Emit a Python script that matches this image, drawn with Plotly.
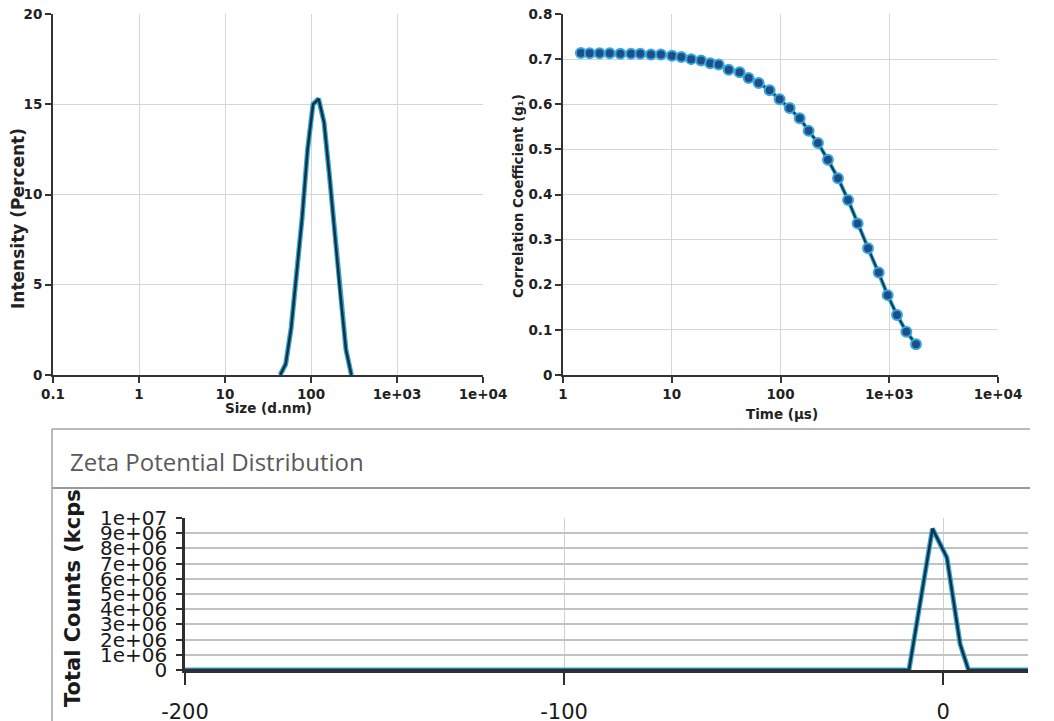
import plotly.graph_objects as go

# The page body has an 8 px default margin, so the figure is placed at (8, 8).
OFF = 8
W, H = 1054 - OFF, 721 - OFF

# ---- Size distribution (intensity) ----
size_nm = [43.82, 50.75, 58.77, 68.06, 78.82, 91.28, 105.7, 122.4, 141.8, 164.2, 190.1, 220.2, 255.0, 295.3]
intensity_pct = [0, 0.6, 2.6, 5.5, 8.7, 12.5, 15.0, 15.3, 14.0, 11.0, 7.6, 4.4, 1.4, 0]
size_ticks = [0.1, 1, 10, 100, 1000, 10000]
size_ticktext = ["0.1", "1", "10", "100", "1e+03", "1e+04"]
int_ticks = [0, 5, 10, 15, 20]

# ---- Correlation function ----
time_us = [1.46, 1.76, 2.17, 2.69, 3.37, 4.22, 5.14, 6.44, 7.96, 10.05,
           12.25, 15.1, 18.6, 22.6, 27.0, 33.4, 42.1, 50.9, 63.0, 79.5,
           98.2, 121.4, 150.0, 181.5, 221, 273, 338, 418, 512, 638,
           800, 967, 1178, 1436, 1762]
g1 = [0.7135, 0.713, 0.713, 0.713, 0.712, 0.712, 0.712, 0.710, 0.710, 0.7076,
      0.7046, 0.700, 0.697, 0.691, 0.688, 0.6765, 0.671, 0.658, 0.647, 0.631,
      0.611, 0.5915, 0.569, 0.541, 0.514, 0.477, 0.436, 0.388, 0.336, 0.281,
      0.227, 0.177, 0.133, 0.096, 0.068]
time_ticks = [1, 10, 100, 1000, 10000]
time_ticktext = ["1", "10", "100", "1e+03", "1e+04"]

# ---- Zeta potential distribution ----
zeta_mV = [-200, -9.0, -6.0, -2.8, 1.0, 4.5, 6.7, 22.4]
counts = [0, 0, 4.5e6, 9.3e6, 7.4e6, 1.7e6, 0, 0]
zeta_ticks = [-200, -100, 0]
zeta_ticktext = ["-200", "-100", "0"]
count_ticks = [0, 1e6, 2e6, 3e6, 4e6, 5e6, 6e6, 7e6, 8e6, 9e6, 1e7]
count_ticktext = ["0", "1e+06", "2e+06", "3e+06", "4e+06", "5e+06",
                  "6e+06", "7e+06", "8e+06", "9e+06", "1e+07"]

GLOW = "#2aa9de"
CORE = "#1b2f3d"
AXC = "#333333"
GRID = "#d6d6d6"


def px(x):
    return (x - OFF) / W


def py(y):
    return 1 - (y - OFF) / H


fig = go.Figure()

# size distribution: glow + core
fig.add_trace(go.Scatter(x=size_nm, y=intensity_pct, mode="lines",
                         line=dict(color=GLOW, width=5), xaxis="x", yaxis="y",
                         hoverinfo="skip", showlegend=False))
fig.add_trace(go.Scatter(x=size_nm, y=intensity_pct, mode="lines",
                         line=dict(color=CORE, width=2.5), xaxis="x", yaxis="y",
                         showlegend=False))

# correlation
fig.add_trace(go.Scatter(x=time_us, y=g1, mode="lines",
                         line=dict(color=GLOW, width=4), xaxis="x2", yaxis="y2",
                         hoverinfo="skip", showlegend=False))
fig.add_trace(go.Scatter(x=time_us, y=g1, mode="lines+markers",
                         line=dict(color="#173a4c", width=2),
                         marker=dict(size=10, color="#1d4f86",
                                     line=dict(color="#3aa8e0", width=2)),
                         xaxis="x2", yaxis="y2", showlegend=False))

# zeta
fig.add_trace(go.Scatter(x=zeta_mV, y=counts, mode="lines",
                         line=dict(color=GLOW, width=5), xaxis="x3", yaxis="y3",
                         hoverinfo="skip", showlegend=False, cliponaxis=False))
fig.add_trace(go.Scatter(x=zeta_mV, y=counts, mode="lines",
                         line=dict(color=CORE, width=2.5), xaxis="x3", yaxis="y3",
                         showlegend=False, cliponaxis=False))

tick_font = dict(family="DejaVu Sans", size=13.5, color="#222222", weight="bold")

common_top = dict(showline=True, linecolor=AXC, linewidth=2, ticks="outside",
                  ticklen=6, tickwidth=1.5, tickcolor=AXC, showgrid=True,
                  gridcolor=GRID, gridwidth=1, zeroline=False,
                  tickfont=tick_font, mirror=False, automargin=False,
                  ticklabeloverflow="allow")

fig.update_layout(
    width=W, height=H, autosize=False,
    margin=dict(l=0, r=0, t=0, b=0, pad=0),
    paper_bgcolor="white", plot_bgcolor="white",
    showlegend=False,
    xaxis=dict(domain=[px(53), px(483)], type="log", range=[-1, 4],
               tickvals=size_ticks, ticktext=size_ticktext, anchor="y",
               **common_top),
    yaxis=dict(domain=[py(375), py(14)], range=[0, 20], tickvals=int_ticks,
               anchor="x", **common_top),
    xaxis2=dict(domain=[px(563), px(998)], type="log", range=[0, 4],
                tickvals=time_ticks, ticktext=time_ticktext, anchor="y2",
                **common_top),
    yaxis2=dict(domain=[py(375), py(14)], range=[0, 0.8], dtick=0.1,
                anchor="x2", **common_top),
    xaxis3=dict(domain=[px(185), px(1028)], range=[-200, 22.4],
                tickvals=zeta_ticks, ticktext=zeta_ticktext, anchor="y3",
                showline=True, linecolor="#332e2b", linewidth=3, ticks="outside",
                ticklen=12, tickwidth=2, tickcolor="#332e2b", showgrid=True,
                gridcolor="#d0d0d0", gridwidth=1, zeroline=False,
                ticklabelstandoff=9, automargin=False, ticklabeloverflow="allow",
                tickfont=dict(family="DejaVu Sans", size=21, color="#1a1a1a")),
    yaxis3=dict(domain=[py(670), py(518)], range=[0, 1e7],
                tickvals=count_ticks, ticktext=count_ticktext, anchor="x3",
                showline=True, linecolor="#332e2b", linewidth=2.5, ticks="outside",
                ticklen=6, tickwidth=2, tickcolor="#332e2b", showgrid=True,
                gridcolor="#c2c2c2", gridwidth=2, zeroline=False,
                ticklabelstandoff=5, automargin=False, ticklabeloverflow="allow",
                tickfont=dict(family="DejaVu Sans", size=20, color="#1a1a1a")),
)

ann = []
ann.append(dict(text="Intensity (Percent)", x=px(18), y=py(219), textangle=-90,
                font=dict(family="DejaVu Sans", size=17, color="#222222", weight="bold")))
ann.append(dict(text="Size (d.nm)", x=px(268), y=py(408),
                font=dict(family="DejaVu Sans", size=13.5, color="#222222", weight="bold")))
ann.append(dict(text="Correlation Coefficient (g₁)", x=px(518), y=py(196), textangle=-90,
                font=dict(family="DejaVu Sans", size=13.5, color="#222222", weight="bold")))
ann.append(dict(text="Time (µs)", x=px(782), y=py(414),
                font=dict(family="DejaVu Sans", size=13.5, color="#222222", weight="bold")))
ann.append(dict(text="Zeta Potential Distribution", x=px(68), y=py(461), xanchor="left",
                font=dict(family="Open Sans", size=24, color="#5a5a5a")))
ann.append(dict(text="Total Counts (kcps", x=px(73), y=py(598), textangle=-90,
                font=dict(family="DejaVu Sans", size=21, color="#1a1a1a", weight="bold")))
for a in ann:
    a.update(xref="paper", yref="paper", showarrow=False)
    a.setdefault("xanchor", "center")
    a.setdefault("yanchor", "middle")
fig.update_layout(annotations=ann)

panel_line = dict(color="#a3a3a3", width=1.5)
fig.update_layout(shapes=[
    dict(type="line", xref="paper", yref="paper", x0=px(52), x1=px(1030),
         y0=py(429), y1=py(429), line=panel_line),
    dict(type="line", xref="paper", yref="paper", x0=px(52), x1=px(1030),
         y0=py(488), y1=py(488), line=dict(color="#9a9a9a", width=2)),
    dict(type="line", xref="paper", yref="paper", x0=px(52), x1=px(52),
         y0=py(429), y1=0, line=panel_line),
])

fig.write_html("out.html")
